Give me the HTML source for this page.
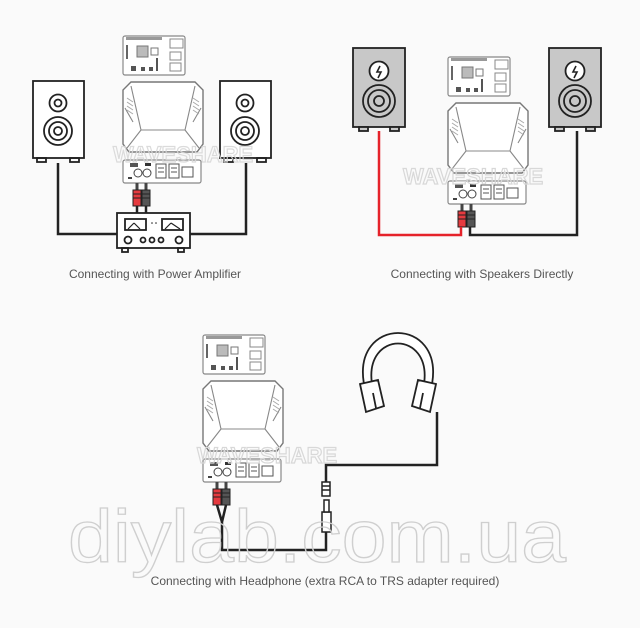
<!DOCTYPE html>
<html><head><meta charset="utf-8"><style>
html,body{margin:0;padding:0;background:#fafafa;}
svg{display:block}
text{font-family:"Liberation Sans",sans-serif}
</style></head><body>
<svg width="640" height="628" viewBox="0 0 640 628" xmlns="http://www.w3.org/2000/svg">
<rect width="640" height="628" fill="#fafafa"/>
<defs>
<g id="dev">
  <rect x="0" y="0" width="62" height="39" rx="2" fill="#fff" stroke="#888" stroke-width="1.2"/>
  <rect x="3" y="1" width="36" height="3" fill="#999"/>
  <rect x="14" y="10" width="11" height="11" fill="#bbb" stroke="#777"/>
  <rect x="28" y="12" width="7" height="7" fill="#fff" stroke="#777"/>
  <rect x="47" y="3" width="13" height="9" fill="#fff" stroke="#888"/>
  <rect x="47" y="16" width="11" height="8" fill="#fff" stroke="#888"/>
  <rect x="47" y="27" width="11" height="8" fill="#fff" stroke="#888"/>
  <rect x="3" y="9" width="2" height="14" fill="#666"/>
  <rect x="8" y="30" width="5" height="5" fill="#555"/><rect x="18" y="31" width="4" height="4" fill="#555"/><rect x="26" y="31" width="4" height="4" fill="#555"/><rect x="33" y="22" width="2" height="13" fill="#555"/>
  <path d="M0,54 L8,46 L72,46 L80,54 L80,108 L74,116 L6,116 L0,108 Z" fill="#fff" stroke="#777" stroke-width="1.4"/>
  <path d="M8,50 L18,94 L62,94 L72,50 M18,94 L4,112 M62,94 L76,112 M2,72 L10,86 M78,72 L70,86" fill="none" stroke="#888" stroke-width="1.1"/>
  <path d="M4,62 L10,66 M4,66 L10,70 M4,70 L10,74 M4,74 L10,78 M70,62 L76,66 M70,66 L76,70 M70,70 L76,74 M70,74 L76,78" stroke="#aaa" stroke-width="1"/>
  <rect x="0" y="124" width="78" height="23" rx="2" fill="#fff" stroke="#888" stroke-width="1.2"/>
  <rect x="7" y="127" width="8" height="4" fill="#555"/><rect x="22" y="127" width="6" height="3" fill="#333"/>
  <circle cx="15" cy="137" r="4" fill="#fff" stroke="#444"/><circle cx="24" cy="137" r="4" fill="#fff" stroke="#444"/>
  <rect x="5" y="141" width="4" height="2" fill="#444"/>
  <rect x="33" y="128" width="10" height="14" fill="#fff" stroke="#555"/><rect x="46" y="128" width="10" height="14" fill="#fff" stroke="#555"/><rect x="59" y="131" width="11" height="10" fill="#fff" stroke="#555"/>
  <path d="M35,132 h6 M35,136 h6 M48,132 h6 M48,136 h6" stroke="#555"/>
</g>
<g id="plugs">
  <rect x="12.5" y="147" width="3" height="7" fill="#444"/>
  <rect x="10" y="154" width="8" height="16" fill="#e53a3f" stroke="#222"/>
  <path d="M10,158h8M10,162h8" stroke="#222"/>
  <rect x="21.5" y="147" width="3" height="7" fill="#444"/>
  <rect x="19" y="154" width="8" height="16" fill="#555" stroke="#222"/>
  <path d="M19,158h8M19,162h8" stroke="#222"/>
</g>
</defs>

<use href="#dev" x="123" y="36"/>
<use href="#plugs" x="123" y="36"/>
<path d="M137,206 V213 M146,206 V213" stroke="#222" stroke-width="2.5"/>
<g fill="none" stroke="#222" stroke-width="1.8">
  <rect x="33" y="81" width="51" height="77" fill="#fff"/>
  <circle cx="58" cy="103" r="8.5"/><circle cx="58" cy="103" r="3.5"/>
  <circle cx="58" cy="131" r="14"/><circle cx="58" cy="131" r="9"/><circle cx="58" cy="131" r="4"/>
  <rect x="37" y="158" width="9" height="4"/><rect x="70" y="158" width="9" height="4"/>
  <rect x="220" y="81" width="51" height="77" fill="#fff"/>
  <circle cx="245" cy="103" r="8.5"/><circle cx="245" cy="103" r="3.5"/>
  <circle cx="245" cy="131" r="14"/><circle cx="245" cy="131" r="9"/><circle cx="245" cy="131" r="4"/>
  <rect x="224" y="158" width="9" height="4"/><rect x="257" y="158" width="9" height="4"/>
</g>
<path d="M58,163 V234 H117 M246,163 V234 H190" fill="none" stroke="#222" stroke-width="2.5"/>
<g fill="none" stroke="#222" stroke-width="1.8">
  <rect x="117" y="213" width="73" height="35" fill="#fff"/>
  <rect x="125" y="219" width="21" height="11"/><rect x="162" y="219" width="21" height="11"/>
  <path d="M128,229 L134,223 M140,229 L134,223 M165,229 L171,223 M180,229 L171,223" stroke-width="1.2"/>
  <circle cx="128" cy="240" r="3.5"/><circle cx="143" cy="240" r="2.5"/><circle cx="152" cy="240" r="2.5"/><circle cx="161" cy="240" r="2.5"/><circle cx="179" cy="240" r="3.5"/>
  <rect x="122" y="248" width="6" height="4"/><rect x="178" y="248" width="6" height="4"/>
</g>
<circle cx="152" cy="223" r="0.8" fill="#222"/><circle cx="156" cy="223" r="0.8" fill="#222"/>
<text x="113" y="162" font-size="22" font-weight="bold" fill="none" stroke="#d8d8d8" stroke-width="1.2" opacity="0.9">WAVESHARE</text>
<text x="155" y="278" font-size="12" fill="#555" text-anchor="middle">Connecting with Power Amplifier</text>

<use href="#dev" x="448" y="57"/>
<use href="#plugs" x="448" y="57"/>
<g stroke="#222" stroke-width="1.8">
  <rect x="353" y="48" width="52" height="79" fill="#c8c8c8"/>
  <circle cx="379" cy="71" r="9.5" fill="#fff"/>
  <circle cx="379" cy="101" r="16" fill="#c8c8c8"/><circle cx="379" cy="101" r="11" fill="none"/><circle cx="379" cy="101" r="5" fill="none"/>
  <rect x="359" y="127" width="9" height="4" fill="#c8c8c8"/><rect x="390" y="127" width="9" height="4" fill="#c8c8c8"/>
  <rect x="549" y="48" width="52" height="79" fill="#c8c8c8"/>
  <circle cx="575" cy="71" r="9.5" fill="#fff"/>
  <circle cx="575" cy="101" r="16" fill="#c8c8c8"/><circle cx="575" cy="101" r="11" fill="none"/><circle cx="575" cy="101" r="5" fill="none"/>
  <rect x="555" y="127" width="9" height="4" fill="#c8c8c8"/><rect x="586" y="127" width="9" height="4" fill="#c8c8c8"/>
</g>
<path d="M380,66 l-3,6 h4 l-3,6 M576,66 l-3,6 h4 l-3,6" fill="none" stroke="#222" stroke-width="1.6"/>
<path d="M379,131 V235 H461 V227" fill="none" stroke="#e5222a" stroke-width="2.5"/>
<path d="M470,227 V235 H577 V131" fill="none" stroke="#222" stroke-width="2.5"/>
<text x="403" y="184" font-size="22" font-weight="bold" fill="none" stroke="#d8d8d8" stroke-width="1.2">WAVESHARE</text>
<text x="482" y="278" font-size="12" fill="#555" text-anchor="middle">Connecting with Speakers Directly</text>

<use href="#dev" x="203" y="335"/>
<use href="#plugs" x="203" y="335"/>
<path d="M217,505 L222,522 M226,505 L222,522 M222,522 V550 H326 V530" fill="none" stroke="#222" stroke-width="2.5"/>
<g stroke="#222" stroke-width="1.5" fill="#fff">
  <rect x="322" y="512" width="9" height="20"/>
  <rect x="324" y="500" width="5" height="12"/>
  <rect x="322" y="482" width="8" height="14"/>
  <path d="M322,486h8M322,490h8" fill="none"/>
</g>
<path d="M326,482 V465 H437 V412" fill="none" stroke="#222" stroke-width="2.5"/>
<g fill="#fff" stroke="#222" stroke-width="1.8">
  <path d="M364,384 C352,316 444,316 432,384 L424,384 C432,330 364,330 372,384 Z"/>
  <path d="M360,384 L378,380 L384,406 L366,412 Z"/>
  <path d="M436,384 L418,380 L412,406 L430,412 Z"/>
  <path d="M373,393 L376,408 M423,393 L420,408" fill="none"/>
</g>
<text x="197" y="463" font-size="22" font-weight="bold" fill="none" stroke="#d8d8d8" stroke-width="1.2">WAVESHARE</text>
<text x="68" y="562" font-size="74" fill="none" stroke="#cfcfcf" stroke-width="1.3" textLength="498" lengthAdjust="spacingAndGlyphs">diylab.com.ua</text>
<text x="325" y="585" font-size="12" fill="#555" text-anchor="middle">Connecting with Headphone (extra RCA to TRS adapter required)</text>
</svg>
</body></html>
